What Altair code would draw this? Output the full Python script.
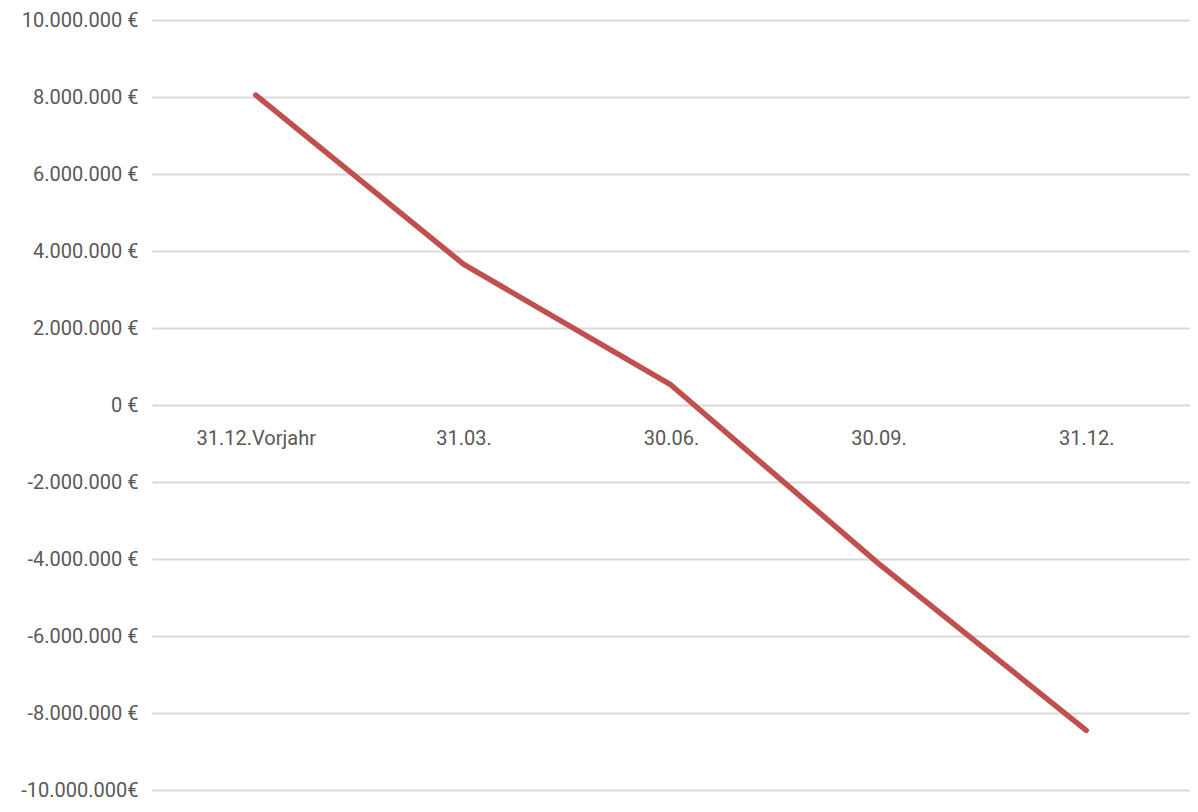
import altair as alt
import pandas as pd

categories = ["31.12.Vorjahr", "31.03.", "30.06.", "30.09.", "31.12."]
values = [8050000, 3660000, 520000, -4120000, -8450000]
tick_values = [-10000000, -8000000, -6000000, -4000000, -2000000, 0,
               2000000, 4000000, 6000000, 8000000, 10000000]
tick_labels = ["-10.000.000€", "-8.000.000 €", "-6.000.000 €", "-4.000.000 €",
               "-2.000.000 €", "0 €", "2.000.000 €", "4.000.000 €",
               "6.000.000 €", "8.000.000 €", "10.000.000 €"]

df = pd.DataFrame({"Datum": categories, "Wert": values})

mapping = ", ".join(f"'{v}': '{l}'" for v, l in zip(tick_values, tick_labels))
label_expr = "{" + mapping + "}[toString(datum.value)]"

FONT = "Liberation Sans Narrow, Arial Narrow, Roboto, Liberation Sans, sans-serif"

chart = alt.Chart(df).mark_line(
    color="#C0504D", strokeWidth=5.5, strokeCap="round", strokeJoin="round"
).encode(
    x=alt.X("Datum:N", sort=categories,
            scale=alt.Scale(paddingInner=1, paddingOuter=0.5),
            axis=alt.Axis(title=None, orient="bottom", offset=-385, domain=False,
                          ticks=False, labelAngle=0, labelPadding=23,
                          labelFontSize=20, labelColor="#595959", labelFont=FONT,
                          grid=False)),
    y=alt.Y("Wert:Q", scale=alt.Scale(domain=[-10000000, 10000000], nice=False),
            axis=alt.Axis(title=None, values=tick_values, labelExpr=label_expr,
                          domain=False, ticks=False, labelPadding=14,
                          labelFontSize=20, labelColor="#595959", labelFont=FONT,
                          grid=True, gridColor="#D9D9D9", gridWidth=2)),
).properties(
    width=1038, height=770,
    autosize=alt.AutoSizeParams(type="none"),
    padding={"left": 144, "top": 12, "right": 0, "bottom": 14},
).configure_view(stroke=None)

chart.save("out.html", embed_options={"renderer": "svg", "actions": False})
